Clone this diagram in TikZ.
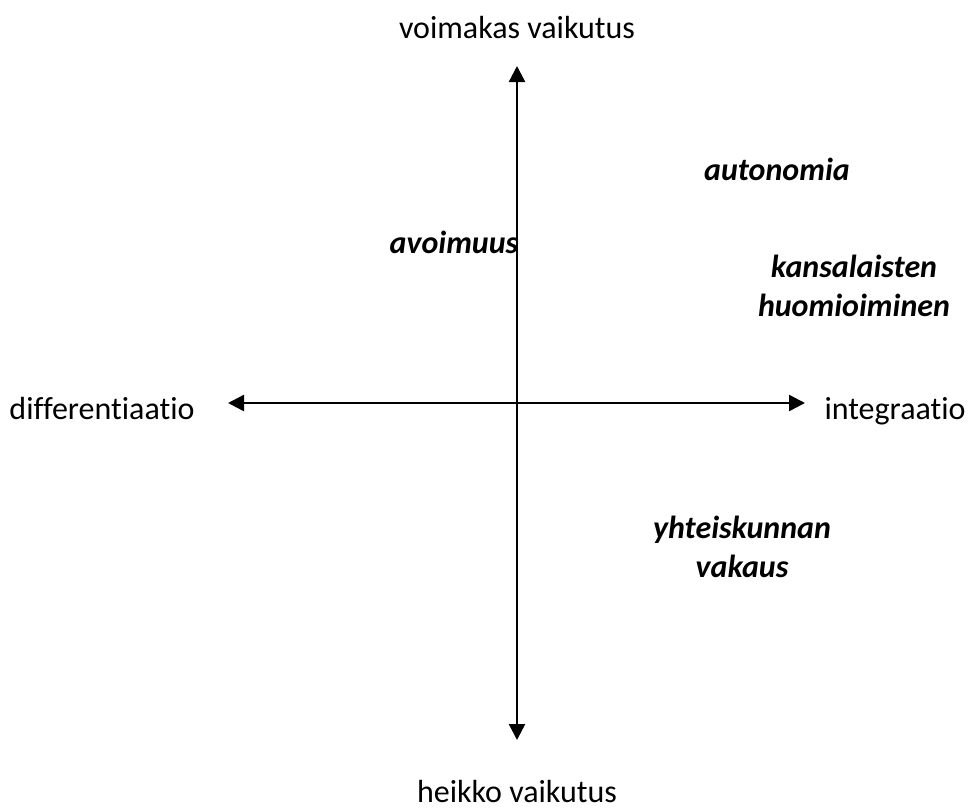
\documentclass[tikz,border=0pt]{standalone}
\usepackage{fontspec}
\setmainfont[Ligatures={NoCommon}]{Carlito}
\usetikzlibrary{arrows.meta}
\begin{document}
\begin{tikzpicture}[x=0.75pt,y=-0.75pt,font=\fontsize{24}{29}\selectfont,
  axis/.style={line width=1.8pt, {Triangle[length=12pt,width=12pt]}-{Triangle[length=12pt,width=12pt]}},
  value/.style={font=\fontsize{24}{29}\selectfont\bfseries\itshape, align=center}]
\useasboundingbox (0,0) rectangle (973,808);

\coordinate (top) at (517,66);
\coordinate (bottom) at (517,740);
\coordinate (left) at (228,403);
\coordinate (right) at (805,403);

\draw [axis] (bottom) -- (top);
\draw [axis] (left) -- (right);

\node (strong) at (517,28) {voimakas vaikutus};
\node (weak) at (517,791) {heikko vaikutus};
\node[anchor=base] (diff) at (102,419) {differentiaatio};
\node[anchor=base] (integ) at (895,419) {integraatio};

\node[value] (auto) at (777,169) {autonomia};
\node[value] (open) at (454,242) {avoimuus};
\node[value] (citizens) at (854,286) {kansalaisten\\huomioiminen};
\node[value] (stable) at (742,547) {yhteiskunnan\\vakaus};
\end{tikzpicture}
\end{document}
